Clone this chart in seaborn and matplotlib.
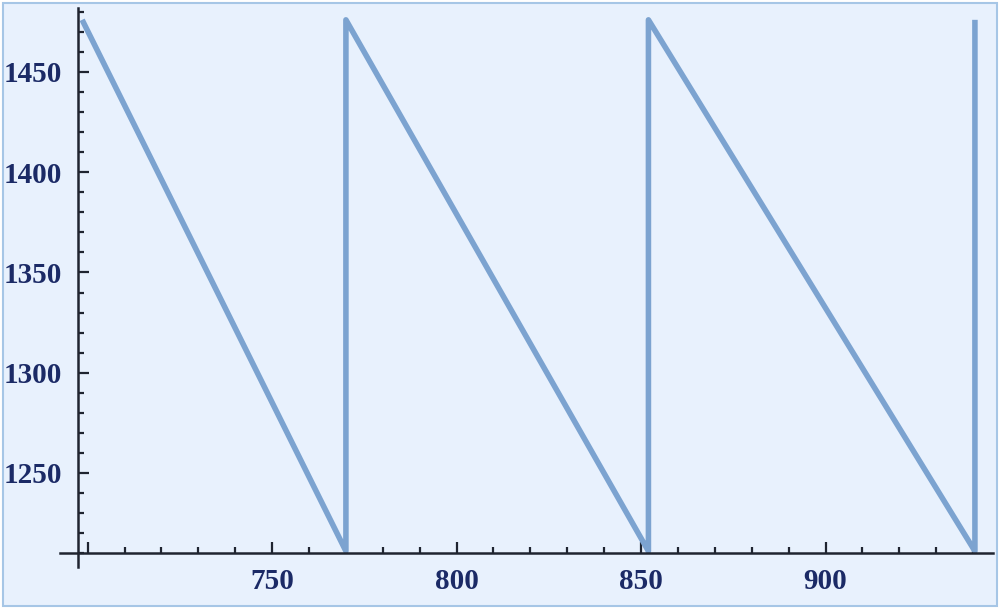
import matplotlib
matplotlib.use('Agg')
import matplotlib.pyplot as plt
import matplotlib.patches as mpatches
import seaborn as sns

# sawtooth corner points
x_vals = [698.5, 770, 770, 852, 852, 940.5, 940.5]
y_vals = [1476, 1211, 1476, 1211, 1476, 1211, 1476]

x_major = [700, 750, 800, 850, 900]
x_labels = ['', '750', '800', '850', '900']
x_minor = list(range(700, 950, 10))
y_major = [1250, 1300, 1350, 1400, 1450]
y_labels = ['1250', '1300', '1350', '1400', '1450']
y_minor = list(range(1210, 1490, 10))

sns.set_style('white')
plt.rcParams['font.family'] = ['Liberation Serif', 'DejaVu Serif']

fig = plt.figure(figsize=(10.02, 6.11), dpi=100)
fig.patch.set_facecolor('white')
# light blue panel with thin frame, like the original screenshot
fig.patches.append(mpatches.Rectangle((3 / 1002, 5 / 611), 994 / 1002, 603 / 611,
                                      transform=fig.transFigure, facecolor='#e8f1fd',
                                      edgecolor='#a6c6e6', linewidth=1.5, zorder=-1))

ax = fig.add_axes([60 / 1002, 44 / 611, 933 / 1002, 559 / 611])
ax.set_facecolor('none')

sns.lineplot(x=x_vals, y=y_vals, sort=False, estimator=None, ax=ax,
             color='#7ca3d0', linewidth=4, solid_joinstyle='round',
             solid_capstyle='butt')

ax.set_xlim(692.5, 945.4)
ax.set_ylim(1203.1, 1481.9)

# Mathematica style axes crossing at the origin of the plot range
ax.spines['left'].set_position(('data', 697.3))
ax.spines['bottom'].set_position(('data', 1210))
ax.spines['right'].set_visible(False)
ax.spines['top'].set_visible(False)
for s in ['left', 'bottom']:
    ax.spines[s].set_color('#1f2430')
    ax.spines[s].set_linewidth(1.8)

ax.set_xticks(x_major)
ax.set_xticklabels(x_labels)
ax.set_xticks(x_minor, minor=True)
ax.set_yticks(y_major)
ax.set_yticklabels(y_labels)
ax.set_yticks(y_minor, minor=True)

ax.tick_params(which='both', bottom=True, left=True, top=False, right=False)
ax.tick_params(which='major', direction='in', length=8, width=1.6, color='#1f2430',
               labelsize=21, labelcolor='#1b2a66')
ax.tick_params(which='minor', direction='in', length=4.5, width=1.6, color='#1f2430')
ax.tick_params(axis='x', which='major', pad=11)
ax.tick_params(axis='y', which='major', pad=11)
for lab in ax.get_xticklabels() + ax.get_yticklabels():
    lab.set_fontweight('bold')

ax.set_xlabel('')
ax.set_ylabel('')

fig.savefig('out.png', dpi=100, facecolor='white')
